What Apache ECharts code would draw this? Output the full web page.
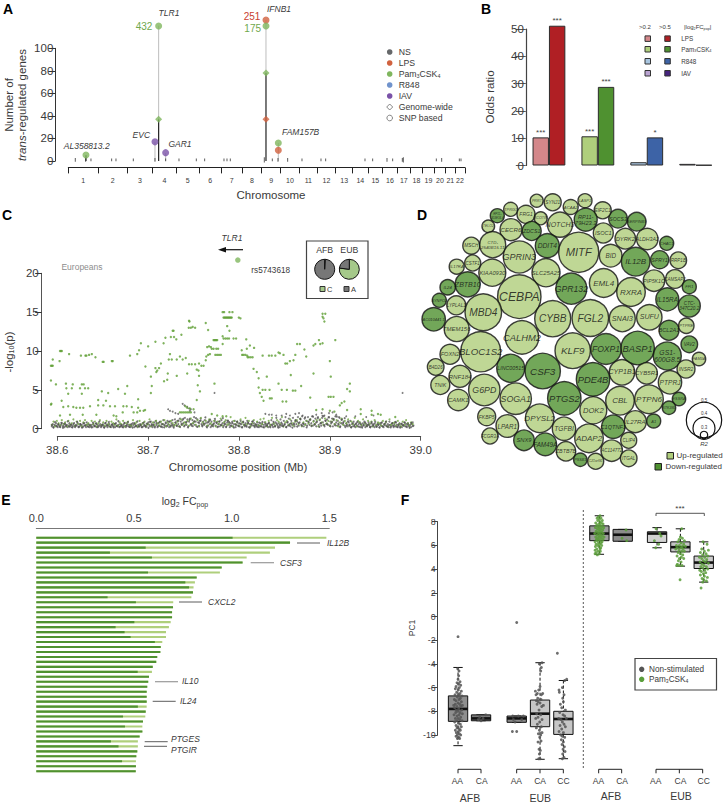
<!DOCTYPE html>
<html><head><meta charset="utf-8"><style>html,body{margin:0;padding:0;background:#fff}#c{width:726px;height:803px}</style>
<script src="https://cdn.jsdelivr.net/npm/echarts@6/dist/echarts.min.js"></script></head><body><div id="c"></div>
<script>
// ---------- Panel A
const chromNames=['1','2','3','4','5','6','7','8','9','10','11','12','13','14','15','16','17','18','19','20','21','22'];
const chromSizes=[90,87,76,71,69,66,63,58,57,56,54,55,51,46,44,44,39,37,35,34,28,30];
const minorLoci=[21,52,68,130,143,195,260,292,332,384,409,467,476,486,588,612,629,658,701,758,772,890,913,956,973,1002,1005,1104,1120,1173,1178];
const minorHeights=[3,3,2,2,2,2,3,2,2,2,2,2,2,2,4,2,3,3,2,2,2,2,2,3,2,3,4,2,3,2,2];
const stemX=[53,260,271,271,292,593,593,630];
const stemFrom=[0,0,0,37,0,0,78,0];
const stemTo=[5,17,37,120,7,78,125,16];
const stemDark=[1,0,1,0,0,1,0,0];
const circleX=[53,260,292,271,593,593,630,630];
const circleY=[5.3,17,7.4,119.8,125,119.8,16,9.5];
const circleClass=['Pam','IAV','IAV','Pam','LPS','Pam','Pam','LPS'];
const diamondX=[271,593,593];
const diamondY=[37,78,37];
const diamondClass=['Pam','Pam','LPS'];
const classColor={NS:'#66686a',LPS:'#d1623f',Pam:'#7fb65e',R848:'#7093cc',IAV:'#7a52a8'};
// ---------- Panel B
const oddsCats=['LPS','Pam3CSK4','R848','IAV'];
const oddsLow=[10.3,10.7,1.2,0.6];
const oddsHigh=[51.2,28.8,10.3,0.2];
const starsLow=['***','***','',''];
const starsHigh=['***','***','*',''];
const oddsLowColor=['#d3878a','#afcf7c','#a9c6e0','#b9a3d1'];
const oddsHighColor=['#b01f24','#4f9130','#3d63a6','#46237f'];
// ---------- Panel C (kb from 38.6 Mb, -log10 p)
const upperGreen=[-7,8.1,-6,8.1,-5,8.1,-5,8.9,-7,6.2,-1.5,5.7,-7,3.1,-6.5,3.2,3,10,4,10,5,10,2.5,8.7,13,9.6,26,9.4,31,9.4,32,9.4,35,9.5,38,9.6,42,9.2,50,8.6,51,8.6,60,8.7,61,8.7,80,9.4,88,9.6,90,10.1,92,11,100,10.6,108,11.2,117,11,119,11.7,125,11.8,128.5,11.8,127,12.6,128,12.6,131,11.5,136.6,12.1,145,13.9,145.5,13.8,144.7,13,147,13,149,13.1,151.7,13,163.4,13.6,166,12.7,182,15,183.6,15,189.5,15,192.8,15,183,14.3,184,14.3,185,14.3,186,14.3,187,14.3,188,14.3,189,14.3,190,14.3,191,14.3,192,14.3,199.8,14.3,201.6,14.2,187,13.2,189.5,12.6,172,11.4,173,11.4,174,11.4,175,11.4,176,11.4,182,11.9,183,11.6,185,11.6,187,11.6,189,11.6,194,11.6,196.8,11.6,208,11.5,165,10.5,167,10.6,169,10.5,170,10.3,172,10.3,175,10.3,177,10.3,182,10.9,166,9.5,168,9.6,164,9.3,174,9.5,176,9.5,178,9.5,180,9.5,203,10.1,208.6,10.3,212,10.7,216.6,10.4,203.5,9.5,205,9.5,207,9.5,209,9.4,209.5,9.2,211,9.2,213,9.2,215,9.2,226,9.4,233,9.4,236,9.4,243.5,9.8,245,9.7,240,9.4,249,9.5,251,8.4,253,8.4,256,8.7,260,8.8,262,9.5,264,10.9,267,10.9,272,10.2,274,9.3,282,10.7,284,10.9,288,11.4,289.4,10.9,292,11,292,14.8,295,14.8,292,14.4,293,14.2,294,13.8,306,11.4,300,8.7,301,6.7,282,7.1,257,6.9,298.6,4.1,301,4.1,304,4.1,97,8,103,6.7,104,5.5,103,4.6,108,7.8,109,7.3,110,7.5,112,7.8,114,8.4,117.5,6.1,121,6.3,122.7,8.9,124,9.6,126,8.9,121.6,7.1,131.5,6.8,131.5,8.9,135,9.3,138,8.9,141.4,9.1,143,7.1,145,8.3,148,8.3,151.7,8.3,153.5,7.6,155.4,7.5,156,6.8,156,8.4,158.6,8.1,161,8.1,163.4,8.8,154.6,5.6,157,4.8,153.5,3.7,173,5.8,216,7.7,219.6,7.3,221.6,6.5,230.6,6.7,243.5,5.8,221.6,5.3,226,5,229,5,233.6,5,247,5,252.7,5,259.3,4.9,262,4.9,268.4,5.5,223,4.6,225,4.1,227,3.6,234,3.9,236,3.9,248,3.5,252,3.5,278.4,4,4.8,3.6,9.5,5.8,17,5.7,27,5.7,29,5.7,10,5.2,16,5.2,25,5.2,30.5,5.2,34,5.2,12,4.5,27,4.5,49,4.8,56,4.6,67,5.1,77,5.5,74.5,4.5,89,3.8,45,3.7,53.6,3.6,6.6,2.8,12,2.9,17.6,2.8,21,2.7,25,2.7,28.6,2.7,36,2.9,45,3,50.7,3,58,2.9,63.5,2.9,72.7,2.9,76.4,2.9,82,2.8,89,2.7,91,2.3,95,2.3,96.6,2.4,3,1.7,14,1.8,28,1.8,43,1.8,62,1.7,65,1.6,72,2.1,84,2.1,88,2.1,135,2.1,137,2.1,139,2.1,141,2.1,143,2.1,145,2.1,147,2.1,141,2.9,143,2.7,146,2.6,150,2.5,170,1.9,176,1.7,182,1.6,186,1.6,322,5.8,319,5.1,322,4.8,313,3.3,316,3.5,311,3,334,2.5,334,1.9,346,2.3,346,1.8,353,1.9,356,1.8,319,2.4,372,1.5,300,2.3,305,2.2,292,2.5,285,2.4];
const upperGrey=[173,4.6,380,4.6,138,3.2,140,3,143,2.8,145,2.6,147,2.5,146,2.3,122,2.5,124,2.3,127,2.2,130,2,133,1.9,151,2.1,229,1.9,233,1.8,236,1.8,241,1.7,247,1.7,252,1.9,256,1.7,262,1.9,266,2,270,1.7,285,1.8,291,2,294,1.7,299,2,303,2.1,307,1.8,310,1.5,318,1.6,328,1.6,340,1.5,348,1.7];
const lowGreyP=[.3,.6,.2,.5,.4,.7,.3,.2,.6,.4,.2,.5,.7,.3,.4,.2,.6,.3,.5,.2,.4,.7,.3,.5,.2,.4,.6,.3,.2,.5,.4,.7,.2,.3,.6,.4,.5,.2,.3,.7,.4,.2,.5,.3,.6,.2,.4,.3,.5,.2,.6,.4,.3,.7,.2,.5,.3,.4,.6,.2,.3,.5,.4,.2,.7,.3,.5,.2,.4,.6,.3,.2,.5,.4,.3,.6,.2,.7,.4,.3,.5,.2,.6,.3,.4,.2,.5,.7,.3,.2,.4,.6,.3,.5,.2,.4,.3,.7,.5,.2,.6,.3,.4,.2,.5,.3,.6,.4,.2,.7,.3,.5,.4,.2,.3,.6,.8,.5,.3,.9,.6,.2,.4,.8,.3,1,.5,.2,.7,.4,.9,.3,.6,.2,1.1,.5,.4,.8,.3,1,.6,.2,.9,.4,.7,1.1,.3,.5,1.2,.8,.4,1,.6,.3,1.3,.9,.5,1.1,.7,.3,1.4,.8,.5,1.2,.3,.9,1.3,.6,.4,1.1,.7,1.5,.5,.9,.3,1.2,.8,.4,1,1.3,.6,.3,.9,.5,1.1,.7,.3,.8,.4,1,.6,.2,.9,.5,.3,.7,1,.4,.8,.2,.6,.9,.3,.5,1.1,.7,.2,.4,.9,.6,.3,.8,1,.5,.2,.7,.4,.9,.3,.6,1,.2,.5,.8,.4,.7,.3,1,.6,.2,.9,.5,.3,.7,.4,1,.8,.2,.6,.3,.5,.9,.4,.7,.2,.6,.3,.8,.5,.2,.4,.7,.3,.6,.2,.5,.8,.3,.4,.6,.2,.7,.3,.5,1.1,.4,.2,.6,.3,.8,1.4,.5,.3,.7,.2,1.2,.4,.6,.3,1,.5,1.5,.2,.8,.4,1.3,.6,.3,1,.5,1.4,.7,.3,1.1,.6,.9,1.5,.4,.8,1.2,.5,1.6,.7,.3,1.3,.6,1,.4,1.5,.8,.5,1.2,.7,1.6,.4,1,.6,1.3,.3,.9,1.5,.5,1.1,.7,.4,1.4,.8,1.6,.3,1,.6,1.2,.5,1.5,.4,.9,.7,1.3,.3,1.1,.6,1.6,.8,.4,1,.5,1.4,.3,.7,1.2,.6,.9,.4,.2,.7,.5,.3,.8,.4,1,.2,.6,.3,.9,.5,.2,.7,.4,.3,.6,.8,.2,.5,.3,.7,.4,.9,.2,.6,.3,.5,.8,.4,.2,.7,.3,.6,.5,.2,.9,.4,.3,.7,.5,.2,.6,.4,.8,.3,.2,.5,.7,.4,.3,.6,.2,.9,.5,.3,.7,.4,.2,.6,.3,.8,.5,.2,.4,.7,.3,.6,.2,.5,.4,.8,.3,.6,.2,.7,.4,.3,.5,.2,.6,.8,.4];
const lowGreyQ=[.45,.15,.85,.35,.55,.25,.75,.12,.65,.4,.95,.28,.52,.18,.72,.36,.88,.22,.58,.14,.68,.42,.82,.26,.48,.16,.78,.32,.62,.2,.92,.38,.54,.13,.74,.44,.86,.24,.56,.17,.66,.34,.96,.27,.46,.19,.76,.41,.84,.23,.57,.15,.71,.37,.93,.29,.49,.21,.79,.33,.64,.12,.89,.43,.53,.16,.73,.31,.81,.25,.59,.18,.69,.39,.91,.28,.47,.14,.77,.35,1.05,.22,.63,1.25,.44,.85,.16,1.15,.56,.32,.95,1.35,.24,.74,1.05,.42,.65,1.45,.18,.84,1.15,.36,.55,1.25,.75,.27,.94,.46,1.35,.62,.2,1.05,.83,.38,.72,.15,.52,.91,.33,.64,.17,.82,.45,.26,.7,.14,.58,.95,.37,.48,.22,.78,.31,.86,.16,.61,.41,.73,.19,.54,.88,.29,.67,.13,.47,.77,.35,.59,.21,.84,.43,.68,.15,.56,1.05,.28,.74,1.25,.39,.63,1.45,.18,.92,1.15,.34,1.55,.52,.81,1.35,.24,.71,1.65,.46,1.05,.6,1.45,.3,.85,1.25,.42,1.55,.66,.2,1.15,.76,1.35,.38,.94,.5,.16,.72,.33,.58,.87,.25,.64,.14,.48,.79,.36,.55,.19,.83,.41,.69,.23,.52,.13,.75,.31,.6,.9,.27,.47,.17,.7,.37,.86,.22,.53,.15,.65,.44,.78,.29,.57,.12,.73,.34];
const lowGreenP=[.5,.9,.3,1,.7,.4,1.1,.6,.8,.3,1,.5,.7,1.2,.4,.9,.6,1,.3,.8,1.1,.5,.7,.4,1,.6,.9,.3,.7,1.1,.5,.8,.4,1,.6,.3,.9,.7,.5,1.2,.4,.8,.6,1,.3,.7,.9,.5,.4,1.1,.6,.8,.3,1,.5,.7,.9,.4,.6,1.2,.3,.8,.5,1,.7,.4,.9,.6,1.1,.3,.8,.5,1,.7,.4,.6,.9,.3,1.2,.5,.8,.6,1,.4,1.3,.7,.9,.5,1.1,.3,1.4,.8,.6,1,.4,1.2,.7,.5,1,.3,.9,.6,1.3,.4,.8,1.1,.5,.7,1.5,.3,1,.6,.9,.4,1.2,.8,.5,1.4,.6,1,.3,.7,1.1,.5,.9,.4,1.2,.6,1.3,.8,.3,1,.5,1.4,.7,.4,1.1,.9,.6,1.5,.3,.8,1,.5,1.2,.7,.4,.9,1.1,.6,1.3,.3,.8,.5,1,.7,1.2,.4,.9,.6,1.1,.3,1.2,.8,.5,1.3,.7,1,.4,.9,1.2,.6,1.1,.3,.8,1.3,.5,1,.7,1.2,.4,.9,.6,1.4,.3,1,.8,.5,1.2,.7,.4,1,.6,.9,.3,1.1,.5,.8,.7,.4,1,.6,.9,.3,1.2,.5,.7,.8,.4,1,.6,.3,.9,.5,1.1,.7,.4,.8,.6];
const topHitKb=198.7, topHitP=21.7;
const pieAFB=[0.01,0.99], pieEUB=[0.77,0.23];
// ---------- Panel D
const geneNames=['PRR7','SYNJ1','ACAA2','TPRG1','RP11-\n303E16.4','FRG1','SCOTIN','TELO2','CECR6','NOTCH3','ZDCS1','MSCH','CTD-\n2540B15.11','GPRIN3','DDIT4','CSTF1','IL17RA','KIAA0930','SLC25A25','GPR132','ZBTB10','CEBPA','IL24','SYNPO2','LYPLAL1','MBD4','AC010441.1','TMEM156','CALHM2','BLOC1S2','CYBB','FGL2','KLF9','LINC00515','CSF3','PTGS2','SOGA1','G6PD','FOXN2','RNF184','CAMK1','TNIK','B4D26','FKBP5','FCGR3A','LPAR1','SNX9','FAM49A','DPYSL2','TGFBI','ZBTB7B','ADAP2','PSSB1','C21orf91','AC114772','DOK2','C1QTNF1','CLIP4','ITGAL','IL27RA','A1','CBL','PTPN6','CYP1B1','PDE4B','FOXP1','BASP1','CYB5R1','GS1-\n600G8.5','PTPRJ','INSR2','VAV2','FAM3A','ESSRA','STK38L','MITF','EML4','RXRA','BID','ISOC1','IL12B','DYRK2','ALDH3A2','SOCS3','SERPINB9','EIF2C1','RP11-\n79H23.3','LASP1','CHAC1','SPRY1','RRP1B','PIP5K1C','CAMSAP2','FFI1','IL15RA','CTC-\n347C20.2','SUFU','SNAI3','BCL2A1','PTPRE'];
const geneX=[536.7,552.7,570.7,510.7,497.3,526,540.7,488.3,511,560,531.7,471.3,492.7,519.3,547.3,472.7,456.7,492.3,546,571.3,467.7,519.3,447.7,439.3,456.3,483.3,433.7,456.7,522,480.7,552.7,590.3,572.7,510.7,542.7,564.3,515.7,484.3,450,460,458.3,440.3,435.7,486.7,490,507.3,524,545.3,539.7,564,566,589,580.3,595.7,611.7,593.3,613.3,628.7,628.7,635.3,653.7,620,649,622,593,606,637.7,646.7,667.3,670,686,689.3,699,679,669,578.7,603.7,631,610.7,603.3,635.7,625.3,647.3,618,636.7,602.7,585.7,585,666.7,659.7,678.3,654,675,689.3,667.3,689.3,649.3,622.3,669,686.3];
const geneY=[200.7,202.3,207,209.3,215.7,214.3,218.3,226.3,229.7,224.7,231,245.7,244.7,257,245.7,263,266.7,272.7,272.7,288.7,284.3,296.7,287.3,300.3,305.3,312.3,319.3,329,337.3,351.7,318.7,318,350.7,368.3,371,398.3,398.7,390,354.3,376.3,400,385,367,416.7,436,426,440.3,444.3,418.3,428.7,451.3,438.3,459.7,461.3,450.7,410.3,426.7,440.3,458.3,421.7,421,400.7,399.3,372.3,379.3,349,348,373.3,356,382.3,369,344.3,359,399,407.7,252.3,283,292,255.7,233,261.7,238.7,239,218.7,221.7,210.3,219.7,200.7,243.3,259.7,260.3,280.7,279,286.7,299.3,306,317.3,318.7,330.3,325.7];
const geneR=[6.5,8.5,7.5,7,7,9,6.5,6.3,11,12.5,9.5,8.5,13,16,12,8,7.5,13.5,14,15.5,12.5,21.7,7.7,7,9.5,18.3,11.7,12.5,16.7,20,18,18.3,17.7,14,17.7,16.7,15.7,15.7,10,11,10.7,9.5,8.3,9,8,11.3,10.3,11.3,14.3,11.7,9.7,14.3,6.7,8,10.7,13.5,11.7,8,8.3,11,7,14.3,14.3,12.7,16.7,15.3,16.7,10.7,14,11.7,9,8.3,6.7,6.7,6.7,20,14.3,14.3,11.3,10,14.3,10.3,10.7,9.3,9.3,8.5,11.5,7,7,9,8.3,10.7,9.3,7,11.5,11,12.7,13,10,7.7];
const geneDown=['RP11-\n303E16.4','ZDCS1','DDIT4','GPR132','ZBTB10','IL24','SYNPO2','AC010441.1','LINC00515','CSF3','PTGS2','SNX9','FAM49A','PSSB1','C1QTNF1','A1','PDE4B','FOXP1','BASP1','GS1-\n600G8.5','VAV2','ESSRA','STK38L','IL12B','SOCS3','SERPINB9','RP11-\n79H23.3','CHAC1','SPRY1','FFI1','IL15RA','CTC-\n347C20.2','BCL2A1'];
// ---------- Panel E
const fcTotal=[1.485,1.299,1.222,1.196,1.077,1.056,.949,.94,.821,.812,.805,.802,.794,.701,.70,.695,.695,.688,.679,.664,.664,.645,.637,.635,.619,.614,.596,.592,.577,.573,.568,.565,.565,.565,.565,.56,.558,.546,.543,.543,.529,.52,.52,.517,.512,.51,.51,.509];
const fcDark=[1.005,1.299,.56,.377,.592,1.056,.949,.572,.821,.763,.782,.802,.365,.51,.70,.695,.695,.502,.406,.452,.483,.607,.637,.635,.619,.614,.596,.519,.577,.573,.568,.565,.565,.565,.52,.56,.444,.546,.454,.543,.529,.382,.421,.517,.512,.439,.51,.509];
// ---------- Panel F
const boxPos=[324,393,500,570,640,748,818,921,991,1061];
const boxHi=[-4.3,-8.3,-8.4,-3.9,-5.4,8.5,7.35,7.5,7.4,6.3];
const boxQ3=[-6.7,-8.3,-8.4,-7.05,-8,7.65,7.35,7.15,6.3,5.1];
const boxMed=[-7.8,-8.6,-8.6,-8.2,-8.65,7,6.9,7,5.85,4.55];
const boxQ1=[-8.85,-8.8,-8.93,-9.3,-9.95,6.4,6.35,6.25,5.45,4.05];
const boxLo=[-10.9,-8.8,-8.93,-12.05,-12,5.25,6.35,5.8,4.25,2.9];
const boxFill=['#8f8f8f','#7b7b7b','#8a8a8a','#c6c6c6','#c6c6c6','#9c9c9c','#8c8c8c','#d2d2d2','#c4c4c4','#cccccc'];
const ptsNonStim=[
[-1,-4.4,3,-4.6,2,-5,0,-5.3,6,-5.5,-3,-5.6,2,-5.7,8,-5.8,-6,-5.9,4,-6,-8,-6.1,1,-6.2,10,-6.3,-4,-6.4,6,-6.5,-9,-6.6,2,-6.6,12,-6.7,-2,-6.8,7,-6.9,-11,-7,3,-7,-6,-7.1,10,-7.2,0,-7.3,-8,-7.4,5,-7.4,-13,-7.5,13,-7.5,-3,-7.6,8,-7.6,-10,-7.7,2,-7.8,-5,-7.9,11,-7.9,-1,-8,6,-8.1,-7,-8.1,13,-8.2,3,-8.3,-12,-8.3,-3,-8.4,8,-8.5,0,-8.6,-8,-8.6,5,-8.7,12,-8.8,-4,-8.8,-10,-8.9,2,-9,7,-9.1,-6,-9.2,0,-9.3,10,-9.3,-3,-9.4,4,-9.5,-8,-9.6,7,-9.6,1,-9.7,-5,-9.8,4,-9.9,-2,-10,8,-10,-6,-10.1,2,-10.2,5,-10.3,-2,-10.3,0,-1.7],
[-8,-8.7,0,-8.8,14,-8.3,-4,-8.5,6,-8.6],
[-12,-8.4,5,-8.4,20,-8.4,-5,-8.9,0,-9.7,-13,-9.7,0,-0.5,-10,-8.7,15,-8.7],
[6,-3.9,-2,-4,4,-4.3,2,-4.6,0,-5.9,-4,-6.2,-14,-6.3,-8,-6.5,-12,-6.6,4,-6.6,8,-6.5,-11,-7.1,-6,-7.2,0,-7.3,-9,-7.4,5,-7.6,-3,-7.9,-10,-8.2,2,-8.3,-6,-8.5,-13,-8.6,6,-8.7,-1,-8.9,-8,-9.1,4,-9.3,-11,-9.4,-2,-9.6,6,-9.8,-5,-9.9,2,-10,-1,-10.2,3,-10.5,-6,-10.6,-3,-11.2,1,-11.3,-2,-11.6,0,-12,-4,-12,3,-7,-7,-6.9,10,-7.5],
[4,-5.4,-3,-6,-13,-6.2,-12,-6.4,2,-6.6,-2,-6.9,0,-7.2,-9,-7.4,-5,-7.7,6,-7.9,-11,-8.1,-1,-8.3,4,-8.4,-14,-8.6,9,-8.6,-7,-8.7,-3,-8.9,2,-9.1,-10,-9.2,6,-9.3,-5,-9.5,-13,-9.7,0,-9.8,-8,-10,-3,-10.1,4,-10.2,-6,-10.4,0,-10.6,-4,-10.8,3,-11,-1,-11.2,5,-11.4,-2,-11.6,2,-11.9,-3,-12,-18,-3.1,10,-5.3]];
const ptsStim=[
[2,8.5,-3,8.4,-7,8.3,5,8.3,0,8.2,9,8.1,-5,8.1,2,8,-11,7.9,6,7.9,-2,7.8,11,7.8,-8,7.7,3,7.7,-4,7.6,8,7.6,-12,7.5,0,7.5,13,7.5,-6,7.4,5,7.4,-2,7.3,10,7.3,-10,7.2,3,7.2,-5,7.1,7,7.1,-14,7,0,7,12,7,-7,6.9,4,6.9,-2,6.8,9,6.8,-11,6.7,1,6.7,14,6.7,-5,6.6,6,6.6,-9,6.5,-1,6.5,11,6.5,-6,6.4,3,6.4,-13,6.3,8,6.3,-3,6.2,5,6.2,-10,6.1,1,6.1,-5,6,7,6,-12,5.9,-1,5.9,4,5.8,-8,5.7,2,5.7,-13,5.6,-4,5.5,3,5.5,-10,5.4,0,5.3,-6,5.2,-13,5.3],
[10,7.3,12,6.4,-2,6.6],
[-3,7.4,8,7,12,6.8,-8,6.4,5,6.1,-4,5.8],
[4,7.4,0,6.7,6,6.6,-4,6.5,12,6.4,-8,6.3,2,6.2,10,6.1,-12,6,-3,6,6,5.9,15,5.9,-9,5.8,1,5.8,8,5.7,-14,5.7,-4,5.6,4,5.5,12,5.5,-7,5.4,0,5.3,7,5.2,-10,5.1,3,5,-3,4.9,10,4.9,-6,4.7,2,4.6,-9,4.4,5,4.3,-3,4.3,-1,3.1,-11,4.3],
[-2,6.3,10,6.1,-6,5.7,14,5.6,2,5.5,-10,5.4,7,5.3,-3,5.2,12,5.1,-13,5,3,5,-6,4.9,9,4.8,-1,4.7,-11,4.6,5,4.6,14,4.5,-5,4.4,1,4.3,-9,4.2,8,4.2,-3,4.1,12,4,-12,3.9,3,3.9,-7,3.8,6,3.7,-1,3.6,-10,3.5,2,3.4,11,3.3,-5,3.2,0,3.1,8,3,-3,2.9,-8,2.4]];
const ptsStimBox=[5,6,7,8,9];
const boxLabels=['AA','CA','AA','CA','CC','AA','CA','AA','CA','CC'];
const labelPos=[322,395,499,570,640,745,816,917,991,1061];
</script>
<script>
const FF='Liberation Sans, Arial, Helvetica, sans-serif', INK='#3a3a3a';
const chart=echarts.init(document.getElementById('c'),null,{renderer:'svg'});
const T=(x,y,text,o={})=>({type:'text',x,y,silent:true,rotation:o.rot||0,z:50,style:Object.assign({text,fontFamily:FF,fontSize:o.fs||9,fontStyle:o.it?'italic':'normal',fontWeight:o.b?'bold':'normal',fill:o.c||INK,align:o.al||'center',verticalAlign:'middle'},o.rich?{rich:o.rich}:{})});
const L=(x1,y1,x2,y2,c=INK,w=1,dash)=>({type:'line',silent:true,z:50,shape:{x1,y1,x2,y2},style:{stroke:c,lineWidth:w,lineDash:dash}});
const R=(x,y,w,h,fill,stroke='#333',lw=1)=>({type:'rect',silent:true,z:50,shape:{x,y,width:w,height:h},style:{fill,stroke,lineWidth:lw}});
const C=(x,y,r,fill,stroke='none',lw=0)=>({type:'circle',silent:true,z:50,shape:{cx:x,cy:y,r},style:{fill,stroke,lineWidth:lw}});
const subRich=(fs,c)=>({s:{fontSize:fs*0.62,verticalAlign:'bottom',padding:[fs*0.5,0,0,0],fill:c||INK,fontFamily:FF}});

let cum=[0];chromSizes.forEach(s=>cum.push(cum[cum.length-1]+s));
const chromMid=chromSizes.map((s,i)=>cum[i]+s/2);
const g=[];
[['A',8,9],['B',486,9],['C',7,215],['D',422,215],['E',6,500],['F',405,500]].forEach(a=>g.push(T(a[1],a[2],a[0],{fs:14,b:1,c:'#000'})));
g.push(T(9,105,'Number of',{rot:Math.PI/2,fs:11.5}));
g.push(T(22,105,'{i|trans}-regulated genes',{rot:Math.PI/2,fs:11.5,rich:{i:{fontStyle:'italic',fontSize:11.5,fontFamily:FF,fill:INK}}}));
g.push(T(271,195,'Chromosome',{fs:11.5}));
[['TLR1',169,13.3],['IFNB1',279,9],['FAM157B',300.7,132.3],['EVC',141.3,135.3],['GAR1',180,143.7],['AL358813.2',86.7,146]].forEach(a=>g.push(T(a[1],a[2],a[0],{it:1,fs:8.5})));
g.push(T(144,26,'432',{fs:10,c:'#6fa84d'}),T(252,16.7,'251',{fs:10,c:'#c8402f'}),T(252.7,28.3,'175',{fs:10,c:'#6fa84d'}));
const aLeg=[['NS',classColor.NS],['LPS',classColor.LPS],['Pam{s|3}CSK{s|4}',classColor.Pam],['R848',classColor.R848],['IAV',classColor.IAV]];
aLeg.forEach((a,i)=>{const y=52+i*11;g.push(C(389.7,y,2.8,a[1]),T(398.7,y,a[0],{fs:8.7,al:'left',rich:subRich(8.7)}));});
g.push({type:'polygon',silent:true,z:50,shape:{points:[[389.7,104],[392.7,107],[389.7,110],[386.7,107]]},style:{fill:'#fff',stroke:'#666',lineWidth:.8}},T(398.7,107,'Genome-wide',{fs:8.7,al:'left'}),C(389.7,118,2.8,'#fff','#666',.8),T(398.7,118,'SNP based',{fs:8.7,al:'left'}));
g.push(T(490,97,'Odds ratio',{rot:Math.PI/2,fs:11.5}));
g.push(T(645,27,'>0.2',{fs:6}),T(665,27,'>0.5',{fs:6}),T(697.7,27,'|log{s|2}FC{s|pop}|',{fs:6,rich:subRich(6)}));
['LPS','Pam{s|3}CSK{s|4}','R848','IAV'].forEach((n,i)=>{const y=[38.7,49.3,61.3,73.3][i];g.push(R(645,y-2.8,5.5,5.5,oddsLowColor[i]),R(664.8,y-2.8,5.5,5.5,oddsHighColor[i]),T(681.3,y,n,{fs:6.3,al:'left',rich:subRich(6.3)}));});
g.push(T(232,237.7,'TLR1',{it:1,fs:8.5}),L(243,249.7,222,249.7,'#111',1.2),{type:'polygon',silent:true,z:50,shape:{points:[[218,249.7],[226,247],[226,252.4]]},style:{fill:'#111'}});
g.push(T(270.7,270,'rs5743618',{fs:8.2}),T(82,266.7,'Europeans',{fs:8.5,c:'#8d8d8d'}));
g.push(T(9,352,'-log{s|10}(p)',{rot:Math.PI/2,fs:11.5,rich:subRich(11.5)}),T(238,466.5,'Chromosome position (Mb)',{fs:11.5}));
g.push(R(306.5,241,61.5,57.5,'#fff','#444',1.2),T(324.7,250,'AFB',{fs:8.7}),T(349.3,250,'EUB',{fs:8.7}),R(320,286.5,5,5,'#a5c98a','#333',1),T(327,289,'C',{fs:7.5,al:'left'}),R(344,286.5,5,5,'#777','#333',1),T(351,289,'A',{fs:7.5,al:'left'}));
g.push(C(704,420,17.7,'none','#111',1.2),C(704,428.3,11,'none','#111',1.2),C(704,435,3.7,'none','#111',1.2),T(704,400,'0.5',{fs:4.5}),T(704,413.7,'0.4',{fs:4.5}),T(704,427,'0.3',{fs:4.5}),T(704,443.5,'R2',{fs:6,it:1}));
g.push(R(667,452.5,6.5,6.5,'#afcd7b','#222',1),T(676.5,455.7,'Up-regulated',{fs:8,al:'left'}),R(655,463.5,6.5,6.5,'#4f9130','#222',1),T(665.5,466.7,'Down-regulated',{fs:8,al:'left'}));
g.push(T(185,501,'log{b|2} FC{s|pop}',{fs:10.5,rich:{b:{fontSize:7,padding:[6,0,0,0],fontFamily:FF,fill:INK},s:{fontSize:7,padding:[6,0,0,0],fontFamily:FF,fill:INK}}}));
[[297,320,543,'IL12B',327,543,'#333'],[250.7,274,562.7,'CSF3',280,562.7,'#999'],[179,202,602,'CXCL2',208,602,'#333'],[155,178,681.7,'IL10',182,681,'#999'],[152.7,175.7,701.3,'IL24',180,700.5,'#333'],[144.7,167.7,741.7,'PTGES',171,739,'#333'],[144,167,746.3,'PTGIR',171,750,'#333']].forEach(a=>g.push(L(a[0],a[2],a[1],a[2],a[6],a[6]==='#999'?1.2:.8),T(a[4],a[5],a[3],{it:1,fs:8.5,al:'left'})));
g.push(T(411.7,628,'PC1',{rot:Math.PI/2,fs:8.5}),L(583.3,510,583.3,769,'#444',.9,[2,2]));
[[324,393,[]],[500,640,[570]],[746,815,[]],[918,1058,[988]]].forEach(b=>{const X=v=>350+v/3,y=769.3;g.push(L(X(b[0]),y,X(b[1]),y,'#222',1),L(X(b[0]),y,X(b[0]),y+4,'#222',1),L(X(b[1]),y,X(b[1]),y+4,'#222',1));b[2].forEach(m=>g.push(L(X(m),y,X(m),y+4,'#222',1)));});
g.push(T(470,797.7,'AFB',{fs:10.5}),T(540.3,797.7,'EUB',{fs:10.5}),T(611,796,'AFB',{fs:10.5}),T(681,796,'EUB',{fs:10.5}));
g.push(L(656,513.3,704.3,513.3,'#444',.9),L(656,513.3,656,516,'#444',.9),L(704.3,513.3,704.3,516,'#444',.9),T(680,508,'***',{fs:8}));
g.push(R(635,658.5,81.5,31.5,'#fff','#444',1.2),C(641.7,669.3,2.7,'#555'),C(641.7,679.3,2.7,'#5a9e3a'),T(649,669.3,'Non-stimulated',{fs:8.2,al:'left'}),T(649,679.3,'Pam{s|3}CSK{s|4}',{fs:8.2,al:'left',rich:subRich(8.2)}));

const flat=(a,f)=>{const r=[];for(let i=0;i<a.length;i+=2)r.push(f(a[i],a[i+1]));return r;};
const mb=k=>38.6+k/1000;
const hidden={show:false};
const series=[];
stemX.forEach((x,i)=>series.push({type:'line',xAxisIndex:0,yAxisIndex:0,clip:false,silent:true,symbol:'none',data:[[x,stemFrom[i]],[x,stemTo[i]]],lineStyle:{color:stemDark[i]?'#222':'#bdbdbd',width:stemDark[i]?1.2:1},z:2}));
series.push({type:'scatter',xAxisIndex:0,yAxisIndex:0,symbol:'rect',symbolSize:(v)=>[1,v[2]*1.3],data:minorLoci.map((x,i)=>[x,1,minorHeights[i]]),itemStyle:{color:'#333'},clip:false,silent:true,z:2});
series.push({type:'scatter',xAxisIndex:0,yAxisIndex:0,symbol:'circle',symbolSize:7,clip:false,silent:true,z:3,data:circleX.map((x,i)=>({value:[x,circleY[i]],itemStyle:{color:classColor[circleClass[i]]}}))});
series.push({type:'scatter',xAxisIndex:0,yAxisIndex:0,symbol:'diamond',symbolSize:7,clip:false,silent:true,z:3,data:diamondX.map((x,i)=>({value:[x,diamondY[i]],itemStyle:{color:classColor[diamondClass[i]]}}))});
const bS=(vals,cols,st)=>({type:'bar',xAxisIndex:1,yAxisIndex:1,barWidth:16.4,barGap:0,clip:false,silent:true,data:vals.map((v,i)=>({value:v,itemStyle:{color:cols[i],borderColor:'#2c2c2c',borderWidth:1},label:{show:!!st[i],formatter:st[i],position:'top',distance:1,fontSize:8,color:'#444',fontFamily:FF}}))});
series.push(bS(oddsLow,oddsLowColor,starsLow),bS(oddsHigh,oddsHighColor,starsHigh));
const lowScatter=(arr,color)=>({type:'scatter',xAxisIndex:2,yAxisIndex:2,symbolSize:2,clip:false,silent:true,itemStyle:{color},data:arr.map((p,i)=>[mb(-6+i*399/arr.length),p])});
series.push(lowScatter(lowGreyP,'#5c5c5c'),lowScatter(lowGreenP,'#6fa63f'),lowScatter(lowGreyQ,'#4f4f4f'));
series.push({type:'scatter',xAxisIndex:2,yAxisIndex:2,symbolSize:1.9,clip:false,silent:true,itemStyle:{color:'#5c5c5c'},data:flat(upperGrey,(k,p)=>[mb(k),p])});
series.push({type:'scatter',xAxisIndex:2,yAxisIndex:2,symbolSize:2.4,clip:false,silent:true,itemStyle:{color:'#5f9f34'},data:flat(upperGreen,(k,p)=>[mb(k),p])});
series.push({type:'scatter',xAxisIndex:2,yAxisIndex:2,symbolSize:5.5,clip:false,silent:true,itemStyle:{color:'#7fb65e'},data:[[mb(topHitKb),topHitP]]});
const pie=(d,cx,cols)=>({type:'pie',z:60,center:[cx,269.3],radius:[0,10],startAngle:90,clockwise:true,silent:true,label:{show:false},labelLine:{show:false},itemStyle:{borderColor:'#111',borderWidth:1},data:d.map((v,i)=>({value:v,itemStyle:{color:cols[i]}})),animation:false});
series.push(pie(pieAFB,324.7,['#a5c98a','#777']),pie(pieEUB,349.3,['#a5c98a','#777']));
const downSet=new Set(geneDown);
series.push({type:'scatter',xAxisIndex:3,yAxisIndex:3,clip:false,silent:true,symbolSize:v=>v[2]*2,data:geneNames.map((n,i)=>{const r=geneR[i],lines=n.split('\n'),len=Math.max(...lines.map(s=>s.length));const fs=Math.min(r*0.56,(2*r*0.98)/(len*0.58));return {name:n,value:[geneX[i],geneY[i],r],itemStyle:{color:downSet.has(n)?'#4f9130':'#afcd7b',borderColor:'#111',borderWidth:1.4},label:{show:true,position:'inside',formatter:n,fontSize:+fs.toFixed(1),fontStyle:'italic',color:'#111',fontFamily:FF,lineHeight:fs*1.1}};})});
const eCats=fcTotal.map((_,i)=>i);
series.push({type:'bar',xAxisIndex:4,yAxisIndex:4,barWidth:2.1,barGap:'-100%',silent:true,data:fcTotal,itemStyle:{color:'#afcf7c'}},{type:'bar',xAxisIndex:4,yAxisIndex:4,barWidth:2.1,barGap:'-100%',silent:true,data:fcDark,itemStyle:{color:'#4f9130'}});
series.push({type:'custom',xAxisIndex:5,yAxisIndex:5,silent:true,clip:false,encode:{x:0,y:[1,5]},data:boxPos.map((x,i)=>[x,boxHi[i],boxQ3[i],boxMed[i],boxQ1[i],boxLo[i],i]),
 renderItem:(p,api)=>{const x=api.value(0),hi=api.value(1),q3=api.value(2),m=api.value(3),q1=api.value(4),lo=api.value(5),idx=api.value(6);
  const c=(a,b)=>api.coord([a,b]),hw=29,capw=14;const ln=(a,b,w,d)=>({type:'line',shape:{x1:a[0],y1:a[1],x2:b[0],y2:b[1]},style:{stroke:'#111',lineWidth:w,lineDash:d}});
  const tl=c(x-hw,q3),br=c(x+hw,q1);
  return {type:'group',children:[ln(c(x,hi),c(x,q3),1,[3,2]),ln(c(x,q1),c(x,lo),1,[3,2]),ln(c(x-capw,hi),c(x+capw,hi),1),ln(c(x-capw,lo),c(x+capw,lo),1),
   {type:'rect',shape:{x:tl[0],y:tl[1],width:br[0]-tl[0],height:br[1]-tl[1]},style:{fill:boxFill[idx],stroke:'#111',lineWidth:1}},ln(c(x-hw,m),c(x+hw,m),2.6)]};}});
ptsNonStim.forEach((a,i)=>series.push({type:'scatter',xAxisIndex:5,yAxisIndex:5,clip:false,silent:true,symbolSize:2.9,itemStyle:{color:'#555',opacity:.85},data:flat(a,(dx,y)=>[boxPos[i]+dx,y])}));
ptsStim.forEach((a,i)=>series.push({type:'scatter',xAxisIndex:5,yAxisIndex:5,clip:false,silent:true,symbolSize:2.9,itemStyle:{color:'#5a9e3a',opacity:.85},data:flat(a,(dx,y)=>[boxPos[ptsStimBox[i]]+dx,y])}));

const axL=(c=INK,w=1)=>({show:true,onZero:false,lineStyle:{color:c,width:w}});
const lab=(fs,extra={})=>Object.assign({fontSize:fs,color:INK,fontFamily:FF},extra);
chart.setOption({animation:false,backgroundColor:'#fff',textStyle:{fontFamily:FF},
 grid:[{left:68.3,top:48.3,width:396.7,height:112.7},{left:524.5,top:29,width:195.6,height:136.5},{left:57.3,top:273.3,width:363.4,height:155.4},{left:420,top:190,width:300,height:290},{left:36.3,top:535.2,width:293,height:238.5},{left:437.7,top:521.7,width:287.7,height:213.3}],
 xAxis:[
  {gridIndex:0,type:'value',min:0,max:1190,offset:6.7,position:'bottom',axisLine:axL('#222'),splitLine:hidden,
   axisTick:{show:true,length:5.7,customValues:cum,lineStyle:{color:'#222'}},axisLabel:lab(7,{customValues:chromMid,margin:9,formatter:v=>{const i=chromMid.indexOf(v);return i<0?'':chromNames[i];},hideOverlap:false,showMinLabel:true,showMaxLabel:true})},
  {gridIndex:1,type:'category',data:oddsCats,axisLine:{show:false},axisTick:{show:false},axisLabel:{show:false}},
  {gridIndex:2,type:'value',min:38.6,max:39,interval:.1,offset:8,axisLine:axL('#444'),splitLine:hidden,axisTick:{length:4,lineStyle:{color:'#555'}},axisLabel:lab(11.5,{margin:7,formatter:v=>v.toFixed(1)})},
  {gridIndex:3,type:'value',min:420,max:720,show:false,splitLine:hidden},
  {gridIndex:4,type:'value',position:'top',min:0,max:1.5,interval:.5,offset:7,axisLine:axL('#777'),splitLine:hidden,axisTick:{length:4,lineStyle:{color:'#777'}},axisLabel:lab(11,{margin:5,formatter:v=>v.toFixed(1)})},
  {gridIndex:5,type:'value',min:263,max:1126,offset:34.3,axisLine:{show:false},axisTick:{show:false},splitLine:hidden,axisLabel:lab(8.5,{margin:7,customValues:labelPos,formatter:v=>{const i=labelPos.indexOf(v);return i<0?'':boxLabels[i];},showMinLabel:true,showMaxLabel:true,hideOverlap:false})}
 ],
 yAxis:[
  {gridIndex:0,type:'value',min:0,max:100,interval:20,offset:13,axisLine:axL('#333'),splitLine:hidden,axisTick:{show:true,length:7,lineStyle:{color:'#333'}},axisLabel:lab(11.5,{margin:2})},
  {gridIndex:1,type:'value',min:0,max:50,interval:10,offset:-1.3,axisLine:axL('#444',1.2),splitLine:hidden,axisTick:{show:true,length:10,lineStyle:{color:'#555'}},axisLabel:lab(11.5,{margin:2})},
  {gridIndex:2,type:'value',min:0,max:20,interval:5,offset:15.6,axisLine:axL('#555'),splitLine:hidden,axisTick:{show:true,length:6.5,lineStyle:{color:'#333'}},axisLabel:lab(11.5,{margin:3})},
  {gridIndex:3,type:'value',min:190,max:480,inverse:true,show:false,splitLine:hidden},
  {gridIndex:4,type:'category',data:eCats,inverse:true,show:false},
  {gridIndex:5,type:'value',min:-10,max:8,interval:2,axisLine:axL('#444'),splitLine:hidden,axisTick:{show:true,length:6,lineStyle:{color:'#444'}},axisLabel:lab(8.8,{margin:2})}
 ],
 series,graphic:{elements:g}});
</script></body></html>
